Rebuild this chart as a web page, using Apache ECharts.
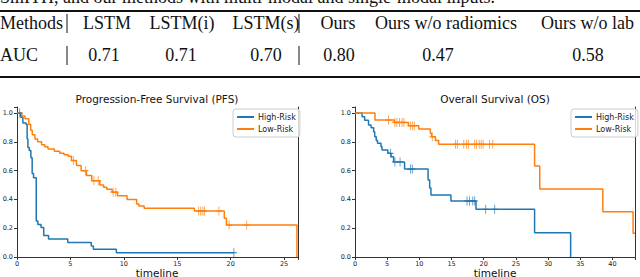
<!DOCTYPE html>
<html>
<head>
<meta charset="utf-8">
<script src="https://cdn.jsdelivr.net/npm/echarts@6/dist/echarts.min.js"></script>
<style>
html,body{margin:0;padding:0;background:#fff;}
#c{width:640px;height:277px;}
</style>
</head>
<body>
<div id="c"></div>
<script>
// ---- Table data ----
const tableHeaders = ["LSTM", "LSTM(i)", "LSTM(s)", "Ours", "Ours w/o radiomics", "Ours w/o lab"];
const tableAUC = ["0.71", "0.71", "0.70", "0.80", "0.47", "0.58"];
const captionText = "SmITH, and our methods with multi-modal and single-modal inputs.";

// ---- PFS (left) ----
const pfsHighT = [0, 0.35, 0.55, 0.85, 0.95, 1.02, 1.15, 1.3, 1.42, 1.55, 1.8, 1.95, 2.25, 2.5, 2.95, 4.75, 6.95, 7.15, 9.3, 20.3];
const pfsHighS = [1.0, 0.97, 0.93, 0.92, 0.82, 0.76, 0.74, 0.69, 0.58, 0.55, 0.25, 0.225, 0.205, 0.15, 0.125, 0.10, 0.077, 0.053, 0.03, 0.03];
const pfsHighCensor = [0.25, 20.3];
const pfsLowT = [0, 0.45, 0.75, 1.1, 1.28, 1.43, 1.68, 1.93, 2.3, 2.6, 2.9, 3.5, 4.0, 4.4, 4.8, 5.1, 5.57, 6.0, 6.5, 7.0, 7.75, 8.1, 8.4, 8.9, 9.4, 10.3, 11.2, 11.4, 11.9, 16.6, 19.4, 19.6, 26.2];
const pfsLowS = [1.0, 0.98, 0.96, 0.92, 0.88, 0.85, 0.82, 0.80, 0.78, 0.766, 0.75, 0.735, 0.72, 0.71, 0.70, 0.67, 0.635, 0.60, 0.567, 0.53, 0.50, 0.485, 0.47, 0.45, 0.426, 0.40, 0.368, 0.355, 0.338, 0.319, 0.269, 0.222, 0.0];
const pfsLowCensor = [5.3, 6.4, 7.2, 7.6, 9.0, 9.25, 17.0, 17.2, 17.4, 17.55, 18.9, 19.85, 21.5];

// ---- OS (right) ----
const osHighT = [0, 1.1, 1.5, 2.1, 2.5, 2.9, 3.06, 3.3, 3.5, 4.04, 4.2, 5.1, 5.6, 6.0, 7.7, 11.35, 11.6, 11.8, 14.9, 18.8, 27.9, 33.5];
const osHighS = [1.0, 0.974, 0.95, 0.917, 0.898, 0.87, 0.835, 0.81, 0.79, 0.766, 0.743, 0.72, 0.697, 0.66, 0.611, 0.535, 0.48, 0.43, 0.389, 0.331, 0.169, 0.0];
const osHighCensor = [5.5, 6.2, 7.0, 8.6, 8.9, 17.4, 17.8, 18.3, 18.6, 20.3, 21.7];
const osLowT = [0, 3.1, 6.1, 8.3, 9.9, 11.7, 11.9, 12.5, 13.0, 27.9, 28.7, 38.5, 43.2, 43.5];
const osLowS = [1.0, 0.951, 0.935, 0.912, 0.889, 0.859, 0.835, 0.81, 0.783, 0.632, 0.472, 0.315, 0.165, 0.165];
const osLowCensor = [5.2, 6.2, 6.5, 6.9, 7.3, 7.6, 8.6, 8.9, 9.2, 12.0, 15.6, 15.9, 16.9, 17.3, 17.6, 18.6, 18.9, 19.3, 19.6, 19.9, 20.9, 21.4];

const yTicks = [0.0, 0.2, 0.4, 0.6, 0.8, 1.0];
const pfsXTicks = [0, 5, 10, 15, 20, 25];
const osXTicks = [0, 5, 10, 15, 20, 25, 30, 35, 40];

const BLUE = '#1f77b4', ORANGE = '#ff7f0e';
const SANS = 'DejaVu Sans';
const SERIF = 'Liberation Serif';

function pairs(T, S) { return T.map((t, i) => [t, S[i]]); }
function stepAt(T, S, c) { let v = S[0]; for (let i = 0; i < T.length; i++) if (T[i] <= c) v = S[i]; return v; }
function censorPts(T, S, C) { return C.map(c => [c, stepAt(T, S, c)]); }

const PLUS = 'path://M-1,-0.14H-0.14V-1H0.14V-0.14H1V0.14H0.14V1H-0.14V0.14H-1Z';

function lineSeries(name, data, color, xi, yi) {
  return { type: 'line', name, data, step: 'end', showSymbol: false, symbol: 'none',
    xAxisIndex: xi, yAxisIndex: yi, lineStyle: { color, width: 1.5 }, itemStyle: { color },
    silent: true, animation: false, z: 3 };
}
function censorSeries(name, data, color, xi, yi) {
  return { type: 'scatter', name: name, data, symbol: PLUS, symbolSize: [6, 9],
    xAxisIndex: xi, yAxisIndex: yi, itemStyle: { color }, silent: true, animation: false, z: 4 };
}

function xAxisCfg(grid, max, ticks) {
  return { type: 'value', gridIndex: grid, min: 0, max, interval: 5,
    axisLine: { show: true, onZero: false, lineStyle: { color: '#333', width: 1 } },
    axisTick: { show: true, length: 3, lineStyle: { color: '#333' } },
    axisLabel: { fontFamily: SANS, fontSize: 6.5, color: '#222', margin: 3,
      formatter: v => ticks.indexOf(v) >= 0 ? String(v) : '' },
    splitLine: { show: false } };
}
function yAxisCfg(grid) {
  return { type: 'value', gridIndex: grid, min: 0, max: 1.042, interval: 0.2, position: 'left',
    axisLine: { show: true, lineStyle: { color: '#333', width: 1 } },
    axisTick: { show: true, length: 3, lineStyle: { color: '#333' } },
    axisLabel: { fontFamily: SANS, fontSize: 6.5, color: '#222', margin: 4,
      formatter: v => yTicks.some(t => Math.abs(t - v) < 1e-6) ? v.toFixed(1) : '' },
    splitLine: { show: false } };
}
function yRightCfg(grid) {
  return { type: 'value', gridIndex: grid, min: 0, max: 1.042, position: 'right',
    axisLine: { show: true, lineStyle: { color: '#333', width: 1 } },
    axisTick: { show: false }, axisLabel: { show: false }, splitLine: { show: false } };
}
function legendCfg(left) {
  return { left, top: 109, orient: 'vertical', data: ['High-Risk', 'Low-Risk'],
    icon: 'rect', itemWidth: 17, itemHeight: 2, itemGap: 4,
    padding: [4, 4, 4, 4], borderColor: '#ccc', borderWidth: 1, borderRadius: 3,
    backgroundColor: 'rgba(255,255,255,0.8)',
    textStyle: { fontFamily: SANS, fontSize: 8, color: '#222', padding: [0, 0, 0, -1] },
    selectedMode: false };
}

// ---- table graphics ----
const graphics = [];
const headerX = [107, 182, 266, 338, 446, 541];
const headerAlign = ['center', 'center', 'center', 'center', 'center', 'left'];
const aucX = [104, 181, 266, 339, 438, 588];
const ROW1 = 23, ROW2 = 55;
function tx(text, x, y, align, size, font, color) {
  graphics.push({ type: 'text', x, y, silent: true,
    style: { text, fill: color || '#111', font: (size || 18) + 'px "' + (font || SERIF) + '"',
      textAlign: align || 'left', textVerticalAlign: 'middle' } });
}
function ln(x1, y1, x2, y2, w) {
  graphics.push({ type: 'line', silent: true, shape: { x1, y1, x2, y2 }, style: { stroke: '#111', lineWidth: w } });
}
tx(captionText, 0, -3, 'left');
ln(0, 11, 640, 11, 2);
ln(0, 77, 640, 77, 2);
tx('Methods', 0, ROW1, 'left');
tx('AUC', 0, ROW2, 'left');
tableHeaders.forEach((h, i) => tx(h, headerX[i], ROW1, headerAlign[i]));
tableAUC.forEach((v, i) => tx(v, aucX[i], ROW2, 'center'));
[67, 299].forEach(x => { ln(x, ROW1 - 9, x, ROW1 + 10, 1); ln(x, ROW2 - 9, x, ROW2 + 10, 1); });
// chart titles and axis names
tx('Progression-Free Survival (PFS)', 157, 99, 'center', 10.5, SANS, '#111');
tx('Overall Survival (OS)', 495, 99, 'center', 10.5, SANS, '#111');
tx('timeline', 157, 272.5, 'center', 10.5, SANS, '#111');
tx('timeline', 495, 272.5, 'center', 10.5, SANS, '#111');

const chart = echarts.init(document.getElementById('c'), null, { renderer: 'svg' });
chart.setOption({
  animation: false,
  backgroundColor: '#fff',
  grid: [
    { left: 17, top: 107, width: 281, height: 150, outerBoundsMode: 'none', containLabel: false },
    { left: 355, top: 107, width: 280, height: 150, outerBoundsMode: 'none', containLabel: false }
  ],
  xAxis: [xAxisCfg(0, 26.3, pfsXTicks), xAxisCfg(1, 43.5, osXTicks)],
  yAxis: [yAxisCfg(0), yRightCfg(0), yAxisCfg(1), yRightCfg(1)],
  legend: [legendCfg(233), legendCfg(571)],
  graphic: graphics,
  series: [
    lineSeries('High-Risk', pairs(pfsHighT, pfsHighS), BLUE, 0, 0),
    lineSeries('Low-Risk', pairs(pfsLowT, pfsLowS), ORANGE, 0, 0),
    censorSeries('High-Risk', censorPts(pfsHighT, pfsHighS, pfsHighCensor), BLUE, 0, 0),
    censorSeries('Low-Risk', censorPts(pfsLowT, pfsLowS, pfsLowCensor), ORANGE, 0, 0),
    lineSeries('High-Risk', pairs(osHighT, osHighS), BLUE, 1, 2),
    lineSeries('Low-Risk', pairs(osLowT, osLowS), ORANGE, 1, 2),
    censorSeries('High-Risk', censorPts(osHighT, osHighS, osHighCensor), BLUE, 1, 2),
    censorSeries('Low-Risk', censorPts(osLowT, osLowS, osLowCensor), ORANGE, 1, 2)
  ]
});
</script>
</body>
</html>
